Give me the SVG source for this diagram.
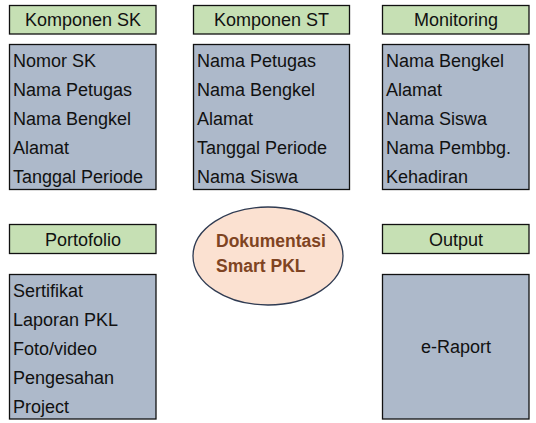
<svg xmlns="http://www.w3.org/2000/svg" width="536" height="423" viewBox="0 0 536 423">
<style>
.hdr{fill:#C6E0B4;stroke:#111;stroke-width:1.3}
.body{fill:#ADB9CA;stroke:#111;stroke-width:1.3}
text{font-family:"Liberation Sans",Arial,sans-serif;font-size:18px;fill:#111}
.c{text-anchor:middle}
.el{fill:#FBE1D1;stroke:#2F3B52;stroke-width:1.3}
.et{font-weight:bold;font-size:17.5px;fill:#7F4422}
</style>
<rect width="536" height="423" fill="#fff"/>
<g id="komponen-sk">
<rect class="hdr" x="9.5" y="5.5" width="146.5" height="28.5"/>
<text class="c" x="83" y="26">Komponen SK</text>
<rect class="body" x="9.5" y="44.5" width="146.5" height="145"/>
<text x="13" y="67">Nomor SK</text>
<text x="13" y="96">Nama Petugas</text>
<text x="13" y="125">Nama Bengkel</text>
<text x="13" y="154">Alamat</text>
<text x="13" y="183">Tanggal Periode</text>
</g>
<g id="komponen-st">
<rect class="hdr" x="193.5" y="5.5" width="156" height="28.5"/>
<text class="c" x="271.5" y="26">Komponen ST</text>
<rect class="body" x="193.5" y="44.5" width="156" height="145"/>
<text x="197" y="67">Nama Petugas</text>
<text x="197" y="96">Nama Bengkel</text>
<text x="197" y="125">Alamat</text>
<text x="197" y="154">Tanggal Periode</text>
<text x="197" y="183">Nama Siswa</text>
</g>
<g id="monitoring">
<rect class="hdr" x="382.5" y="5.5" width="146.5" height="28.5"/>
<text class="c" x="456" y="26">Monitoring</text>
<rect class="body" x="382.5" y="44.5" width="146.5" height="145"/>
<text x="386" y="67">Nama Bengkel</text>
<text x="386" y="96">Alamat</text>
<text x="386" y="125">Nama Siswa</text>
<text x="386" y="154">Nama Pembbg.</text>
<text x="386" y="183">Kehadiran</text>
</g>
<g id="portofolio">
<rect class="hdr" x="9.5" y="224.5" width="146.5" height="29"/>
<text class="c" x="83" y="245.5">Portofolio</text>
<rect class="body" x="9.5" y="274.5" width="146.5" height="144.5"/>
<text x="13" y="297">Sertifikat</text>
<text x="13" y="326">Laporan PKL</text>
<text x="13" y="355">Foto/video</text>
<text x="13" y="384">Pengesahan</text>
<text x="13" y="413">Project</text>
</g>
<g id="output">
<rect class="hdr" x="382.5" y="224.5" width="146.5" height="29"/>
<text class="c" x="456" y="245.5">Output</text>
<rect class="body" x="382.5" y="274.5" width="146.5" height="144.5"/>
<text class="c" x="456" y="353">e-Raport</text>
</g>
<g id="dokumentasi">
<ellipse class="el" cx="268" cy="256" rx="75" ry="49"/>
<text class="et" x="216" y="247">Dokumentasi</text>
<text class="et" x="216" y="272">Smart PKL</text>
</g>
<g id="connectors"></g>
</svg>
